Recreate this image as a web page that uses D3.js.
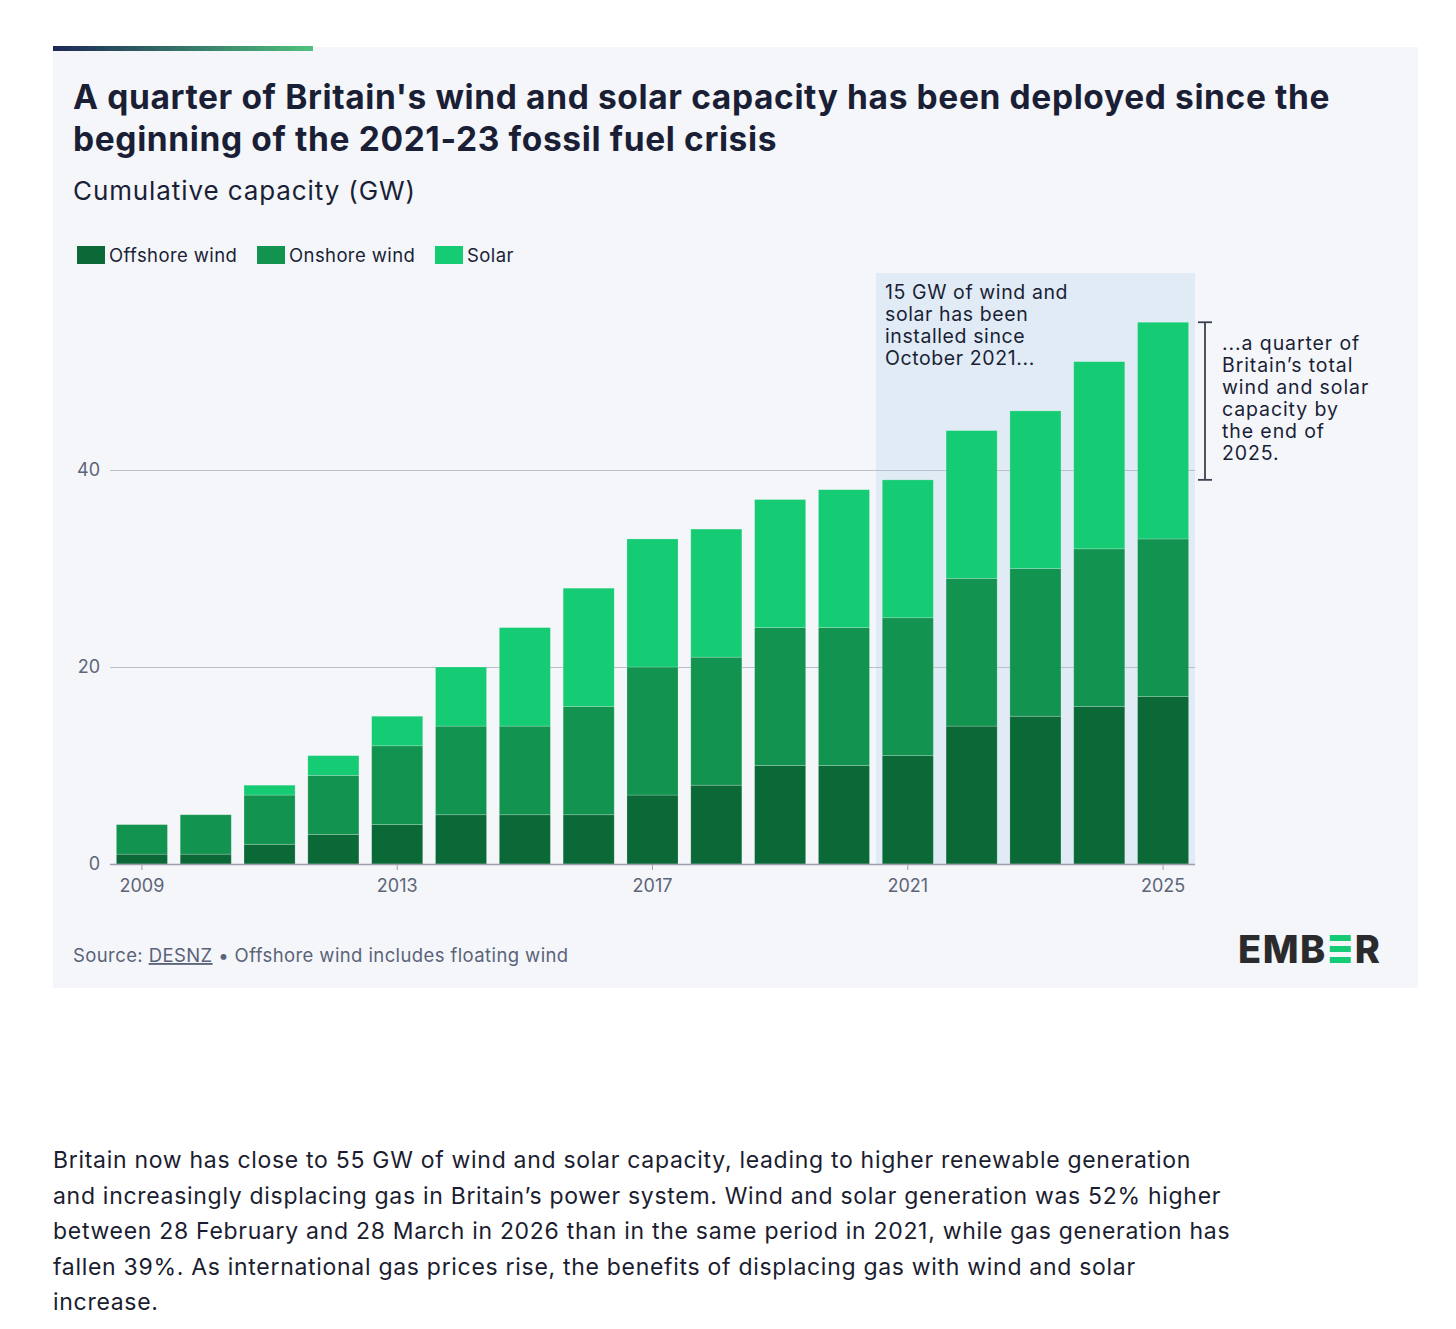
<!DOCTYPE html>
<html>
<head>
<meta charset="utf-8">
<script src="https://cdn.jsdelivr.net/npm/d3@7"></script>
<style>
  body { margin: 0; background: #fff; }
  svg { display: block; font-family: Inter, "Open Sans", sans-serif; }
</style>
</head>
<body>
<div id="chart"></div>
<script>
// data (GW, cumulative at year end)
const years = [2009, 2010, 2011, 2012, 2013, 2014, 2015, 2016, 2017, 2018, 2019, 2020, 2021, 2022, 2023, 2024, 2025];
const offshore = [1, 1, 2, 3, 4, 5, 5, 5, 7, 8, 10, 10, 11, 14, 15, 16, 17];
const onshore = [3, 4, 5, 6, 8, 9, 9, 11, 13, 13, 14, 14, 14, 15, 15, 16, 16];
const solar = [0, 0, 1, 2, 3, 6, 10, 12, 13, 13, 13, 14, 14, 15, 16, 19, 22];
const yTicks = [0, 20, 40];
const xTickYears = [2009, 2013, 2017, 2021, 2025];
const seriesKeys = ["offshore", "onshore", "solar"];
const seriesNames = ["Offshore wind", "Onshore wind", "Solar"];
const colors = ["#0b6837", "#12934f", "#15cb74"];

const W = 1456, H = 1329;
const svg = d3.select("#chart").append("svg")
    .attr("width", W)
    .attr("height", H);

// card
svg.append("rect").attr("x", 53).attr("y", 47).attr("width", 1365).attr("height", 941).attr("fill", "#f4f6fa");

const grad = svg.append("defs").append("linearGradient").attr("id", "accent");
grad.append("stop").attr("offset", "0%").attr("stop-color", "#1d2856");
grad.append("stop").attr("offset", "100%").attr("stop-color", "#4fc27c");
svg.append("rect").attr("x", 53).attr("y", 46).attr("width", 260).attr("height", 5).attr("fill", "url(#accent)");

// titles
svg.append("text").attr("x", 73).attr("y", 109)
    .attr("font-size", 33.5).attr("font-weight", 700).attr("fill", "#1a1f36").attr("letter-spacing", 0.63)
    .text("A quarter of Britain's wind and solar capacity has been deployed since the");
svg.append("text").attr("x", 73).attr("y", 151)
    .attr("font-size", 33.5).attr("font-weight", 700).attr("fill", "#1a1f36").attr("letter-spacing", 0.63)
    .text("beginning of the 2021-23 fossil fuel crisis");
svg.append("text").attr("x", 73).attr("y", 200)
    .attr("font-size", 26).attr("fill", "#1a1f36").attr("letter-spacing", 0.9)
    .text("Cumulative capacity (GW)");

// legend
const legendX = [77, 257, 435];
seriesNames.forEach((name, i) => {
    svg.append("rect").attr("x", legendX[i]).attr("y", 246).attr("width", 28).attr("height", 18).attr("fill", colors[i]);
    svg.append("text").attr("x", legendX[i] + 32).attr("y", 262)
        .attr("font-size", 18.5).attr("letter-spacing", 0.4).attr("fill", "#1a1f36").text(name);
});

// scales
const x = d3.scaleBand().domain(years).range([110, 1195]).paddingInner(0.2).paddingOuter(0.1);
const y = d3.scaleLinear().domain([0, 60]).range([864, 273]);

// highlight region
const hlX = x(2021) - x.step() * x.paddingInner() / 2;
svg.append("rect")
    .attr("x", hlX).attr("y", y(60))
    .attr("width", 1195 - hlX).attr("height", y(0) - y(60))
    .attr("fill", "#e0ebf5");

// gridlines + y labels
const yAxis = svg.append("g").attr("transform", "translate(110,0)")
    .call(d3.axisLeft(y).tickValues(yTicks).tickSize(-1085).tickPadding(10));
yAxis.select(".domain").remove();
yAxis.selectAll(".tick line").attr("stroke", "#b9bec8").attr("stroke-width", 1.2);
yAxis.selectAll(".tick text").attr("font-size", 18).attr("fill", "#5d6577").attr("font-family", "Inter, sans-serif");

// stacked bars
const table = years.map((yr, i) => ({year: yr, offshore: offshore[i], onshore: onshore[i], solar: solar[i]}));
const stacked = d3.stack().keys(seriesKeys)(table);

svg.append("g").selectAll("g")
    .data(stacked)
    .join("g")
    .attr("fill", (d, i) => colors[i])
    .selectAll("rect")
    .data(d => d.filter(s => s[1] > s[0]))
    .join("rect")
    .attr("x", d => x(d.data.year))
    .attr("y", d => y(d[1]))
    .attr("width", x.bandwidth())
    .attr("height", d => y(d[0]) - y(d[1]))
    .attr("stroke", "rgba(255,255,255,0.25)")
    .attr("stroke-width", 0.8);

// x axis
const xAxis = svg.append("g").attr("transform", "translate(0,864)")
    .call(d3.axisBottom(x).tickValues(xTickYears).tickSize(6).tickPadding(9));
xAxis.select(".domain").attr("d", "M110,0.5H1195").attr("stroke", "#9aa1ad").attr("stroke-width", 1.5);
xAxis.selectAll(".tick line").attr("stroke", "#9aa1ad");
xAxis.selectAll(".tick text").attr("font-size", 18).attr("fill", "#5d6577").attr("font-family", "Inter, sans-serif");

// left annotation
const noteLeft = ["15 GW of wind and", "solar has been", "installed since", "October 2021..."];
svg.append("text").attr("font-size", 19.5).attr("letter-spacing", 0.6).attr("fill", "#1a1f36")
    .selectAll("tspan").data(noteLeft).join("tspan")
    .attr("x", 885).attr("y", (d, i) => 299 + i * 22)
    .text(d => d);

// bracket from 2021 total to 2025 total
const total = (i) => offshore[i] + onshore[i] + solar[i];
const bTop = y(total(years.length - 1)), bBot = y(total(years.indexOf(2021)));
const bracket = svg.append("g").attr("stroke", "#3a4150").attr("stroke-width", 1.8);
bracket.append("line").attr("x1", 1205).attr("x2", 1205).attr("y1", bTop).attr("y2", bBot);
bracket.append("line").attr("x1", 1198).attr("x2", 1212).attr("y1", bTop).attr("y2", bTop);
bracket.append("line").attr("x1", 1198).attr("x2", 1212).attr("y1", bBot).attr("y2", bBot);

const noteRight = ["...a quarter of", "Britain\u2019s total", "wind and solar", "capacity by", "the end of", "2025."];
svg.append("text").attr("font-size", 19.5).attr("letter-spacing", 0.9).attr("fill", "#1a1f36")
    .selectAll("tspan").data(noteRight).join("tspan")
    .attr("x", 1222).attr("y", (d, i) => 350 + i * 22)
    .text(d => d);

// source
const src = svg.append("text").attr("x", 73).attr("y", 962).attr("font-size", 18.5)
    .attr("letter-spacing", 0.4).attr("fill", "#5a6378");
src.append("tspan").text("Source: ");
src.append("tspan").attr("text-decoration", "underline").text("DESNZ");
src.append("tspan").text(" \u2022 Offshore wind includes floating wind");

// EMBER logo
const logo = svg.append("g").attr("font-size", 38).attr("font-weight", 800).attr("fill", "#2b2b2e").attr("letter-spacing", 1.5);
const t1 = logo.append("text").attr("x", 1238).attr("y", 963).text("EMB");
let lx = 1238 + t1.node().getComputedTextLength() + 3;
[935, 946, 957].forEach(yy => {
    logo.append("rect").attr("x", lx).attr("y", yy).attr("width", 21).attr("height", 6).attr("fill", "#15cb74");
});
logo.append("text").attr("x", lx + 25).attr("y", 963).text("R");

// paragraph below
const para = [
    "Britain now has close to 55 GW of wind and solar capacity, leading to higher renewable generation",
    "and increasingly displacing gas in Britain\u2019s power system. Wind and solar generation was 52% higher",
    "between 28 February and 28 March in 2026 than in the same period in 2021, while gas generation has",
    "fallen 39%. As international gas prices rise, the benefits of displacing gas with wind and solar",
    "increase."
];
svg.append("text").attr("font-size", 23).attr("letter-spacing", 0.7).attr("fill", "#1b1d30")
    .selectAll("tspan").data(para).join("tspan")
    .attr("x", 53).attr("y", (d, i) => 1168 + i * 35.5)
    .text(d => d);
</script>
</body>
</html>
